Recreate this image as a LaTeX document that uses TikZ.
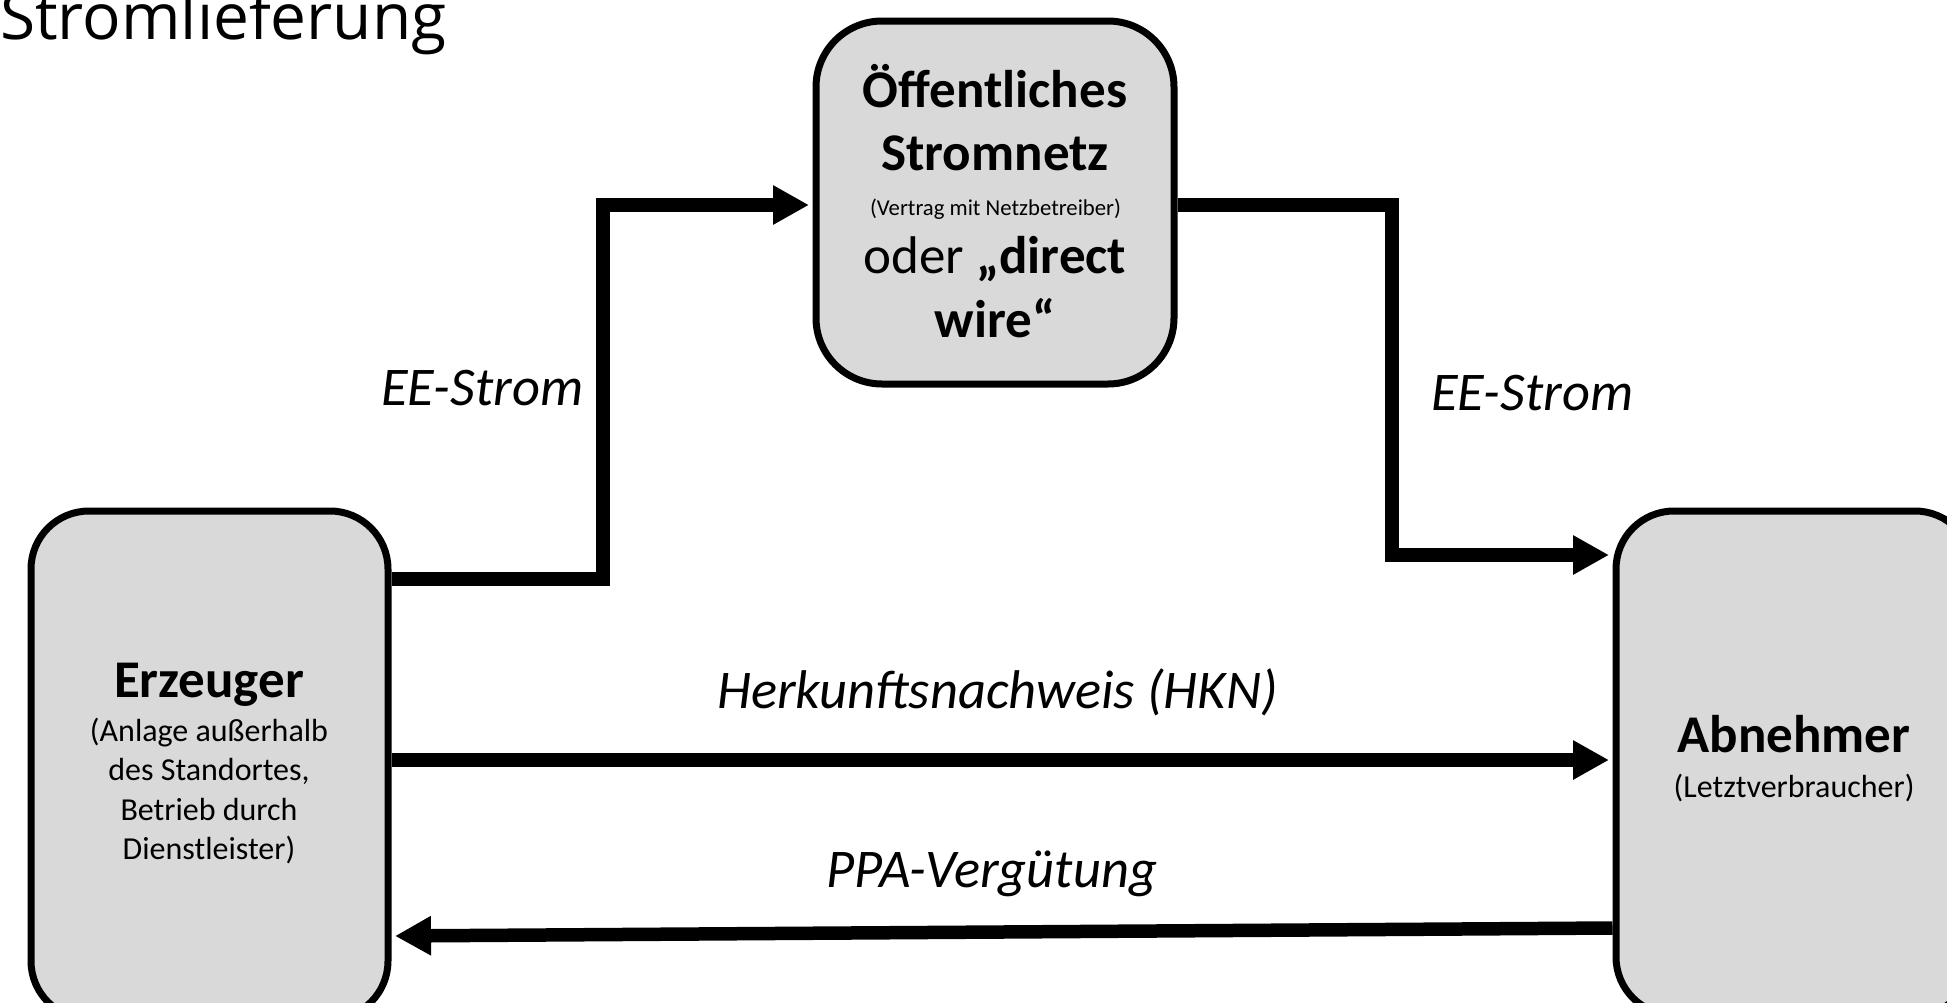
\documentclass[tikz,border=0pt]{standalone}
\usepackage{fontspec}
\setmainfont{Carlito}
\newfontfamily\titlefont{Open Sans}
\usetikzlibrary{arrows.meta}
\definecolor{boxgray}{HTML}{D9D9D9}
\begin{document}
\begin{tikzpicture}[x=1pt,y=-1pt,
  box/.style={draw=black, line width=7pt, fill=boxgray, rounded corners=#1, inner sep=0pt},
  flow/.style={line width=13.5pt, line join=miter, -{Triangle[length=36pt,width=37pt]}, shorten >=3.5pt},
  txt/.style={anchor=base, inner sep=0pt},
  big/.style={font=\fontsize{53}{64}\selectfont\bfseries},
  small/.style={font=\fontsize{32}{39}\selectfont},
  elabel/.style={anchor=base west, inner sep=0pt, font=\fontsize{54.5}{64}\selectfont\itshape}]
\clip (0,0) rectangle (1947,1002);
\fill[white] (0,0) rectangle (1947,1002);

% boxes
\node[box=58pt, minimum width=357pt, minimum height=508pt] (erz) at (209.5,765) {};
\node[box=66pt, minimum width=358pt, minimum height=363pt] (oef) at (995,202.5) {};
\node[box=58pt, minimum width=357pt, minimum height=504pt] (abn) at (1794.5,763) {};

% box texts
\node[txt, big] (oef1) at (995,107) {Öffentliches};
\node[txt, big] (oef2) at (995,170) {Stromnetz};
\node[txt, font=\fontsize{22.7}{27}\selectfont] (oef3) at (995.5,215) {(Vertrag mit Netzbetreiber)};
\node[txt, font=\fontsize{53}{64}\selectfont] (oef4) at (995,273) {oder \textbf{„direct}};
\node[txt, big] (oef5) at (995,337) {wire“};

\node[txt, big] (erz1) at (209,697) {Erzeuger};
\node[txt, small] (erz2) at (209,741) {(Anlage außerhalb};
\node[txt, small] (erz3) at (209,780.5) {des Standortes,};
\node[txt, small] (erz4) at (209,820) {Betrieb durch};
\node[txt, small] (erz5) at (209,859.5) {Dienstleister)};

\node[txt, big] (abn1) at (1794,752) {Abnehmer};
\node[txt, small] (abn2) at (1794,797) {(Letztverbraucher)};

% title
\node[anchor=base west, inner sep=0pt, font=\titlefont\fontsize{64}{77}\selectfont] (title) at (0,39) {Stromlieferung};

% connectors
\coordinate (c1) at (603,579);
\coordinate (c2) at (603,205);
\draw[flow] (erz.east |- c1) -- (c1) -- (c2) -- (oef.west |- c2);
\coordinate (c3) at (1392,205);
\coordinate (c4) at (1392,555);
\draw[flow] (oef.east |- c3) -- (c3) -- (c4) -- (abn.west |- c4);
\coordinate (c5) at (0,760);
\draw[flow] (erz.east |- c5) -- (abn.west |- c5);
\coordinate (c6) at (0,928);
\coordinate (c7) at (0,936);
\draw[flow] (abn.west |- c6) -- (erz.east |- c7);

% edge labels
\node[elabel] (l1) at (381,405) {EE-Strom};
\node[elabel] (l2) at (1431,410) {EE-Strom};
\node[elabel] (l3) at (717,708) {Herkunftsnachweis (HKN)};
\node[elabel] (l4) at (826,887) {PPA-Vergütung};
\end{tikzpicture}
\end{document}
